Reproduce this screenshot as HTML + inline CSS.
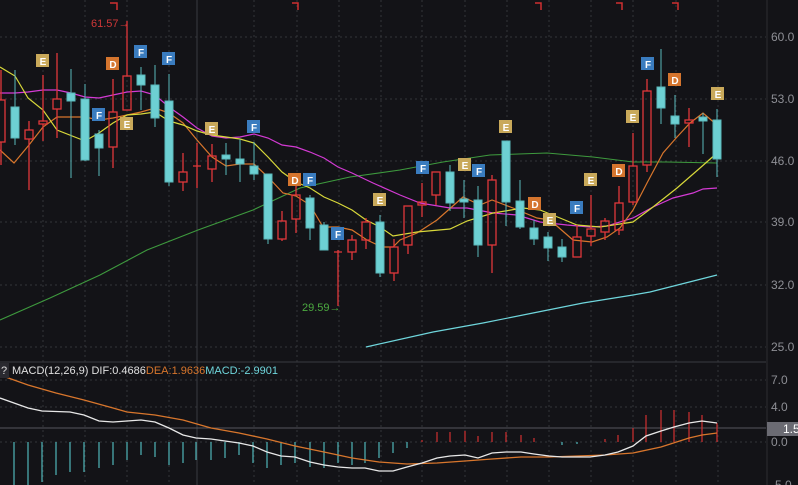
<!DOCTYPE html>
<html><head><meta charset="utf-8"><style>
html,body{margin:0;padding:0;background:#131317;width:798px;height:485px;overflow:hidden}
svg{display:block}
text{font-family:"Liberation Sans",sans-serif}
</style></head><body>
<svg width="798" height="485" viewBox="0 0 798 485" xmlns="http://www.w3.org/2000/svg">
<rect width="798" height="485" fill="#131317"/>
<!-- grid -->
<g stroke="#33343a" stroke-width="1" stroke-dasharray="2,3">
<line x1="0" y1="37" x2="766" y2="37"/><line x1="0" y1="99" x2="766" y2="99"/><line x1="0" y1="161" x2="766" y2="161"/><line x1="0" y1="222" x2="766" y2="222"/><line x1="0" y1="285" x2="766" y2="285"/><line x1="0" y1="347" x2="766" y2="347"/>
<line x1="0" y1="380" x2="766" y2="380"/><line x1="0" y1="407" x2="766" y2="407"/><line x1="0" y1="442" x2="766" y2="442"/>
<line x1="43" y1="0" x2="43" y2="485"/><line x1="85" y1="0" x2="85" y2="485"/><line x1="127" y1="0" x2="127" y2="485"/><line x1="169" y1="0" x2="169" y2="485"/><line x1="254" y1="0" x2="254" y2="485"/><line x1="297" y1="0" x2="297" y2="485"/><line x1="339" y1="0" x2="339" y2="485"/><line x1="381" y1="0" x2="381" y2="485"/><line x1="422" y1="0" x2="422" y2="485"/><line x1="465" y1="0" x2="465" y2="485"/><line x1="507" y1="0" x2="507" y2="485"/><line x1="549" y1="0" x2="549" y2="485"/><line x1="591" y1="0" x2="591" y2="485"/><line x1="633" y1="0" x2="633" y2="485"/><line x1="676" y1="0" x2="676" y2="485"/><line x1="718" y1="0" x2="718" y2="485"/>
</g>
<line x1="197" y1="0" x2="197" y2="485" stroke="#3a3b40"/>
<line x1="767" y1="0" x2="767" y2="485" stroke="#2c2d32"/>
<line x1="0" y1="362" x2="766" y2="362" stroke="#3a3b40"/>
<line x1="0" y1="428" x2="766" y2="428" stroke="#55565c"/>
<!-- axis labels -->
<g fill="#8e8f95" font-size="12">
<text x="771" y="41">60.0</text><text x="771" y="103">53.0</text><text x="771" y="165">46.0</text><text x="771" y="226">39.0</text><text x="771" y="289">32.0</text><text x="771" y="351">25.0</text>
<text x="771" y="384">7.0</text><text x="771" y="411">4.0</text><text x="771" y="446">0.0</text><text x="771" y="489">-5.0</text>
</g>
<rect x="767" y="422" width="31" height="14" fill="#6b6b73"/>
<text x="783" y="433" fill="#fff" font-size="12">1.5</text>
<!-- top markers -->
<g stroke="#d03030" stroke-width="1.5" fill="none">
<path d="M110 3H117V10"/><path d="M292 3H298V10"/><path d="M535 3H541V10"/><path d="M616 3H622V10"/><path d="M672 3H678V10"/>
</g>
<!-- MA lines -->
<polyline fill="none" stroke="#3e9a3e" stroke-width="1.1" points="0,320 50,298 100,275 147,250 198,230 253,210 300,188 350,177 400,170 443,162 490,155 547,153 593,157 633,162 667,162 717,163"/>
<polyline fill="none" stroke="#6fd6dc" stroke-width="1.2" points="366,347 433,332 483,323 533,313 583,303 633,295 650,292 717,275"/>
<polyline fill="none" stroke="#d43ad4" stroke-width="1.2" points="0,93 15,93 28,92 43,90 57,90 71,93 85,97 99,98 113,95 127,92 141,91 155,95 169,107 183,117 197,128 212,136 226,138 240,137 254,134 268,138 282,145 296,147 310,152 324,158 338,167 352,173 373,183 400,195 420,203 450,208 467,208 493,213 517,215 540,222 567,225 590,227 607,226 633,218 653,207 673,198 693,193 703,189 717,188"/>
<polyline fill="none" stroke="#d8762c" stroke-width="1.2" points="0,150 14,163 29,145 43,127 57,117 85,117 99,120 113,118 127,115 141,112 155,108 169,113 183,123 197,140 212,157 226,166 240,164 254,164 268,177 283,193 296,196 310,205 323,227 338,227 352,230 367,240 382,247 393,247 400,240 417,233 437,220 463,197 480,205 492,200 513,208 537,218 550,220 573,240 592,242 607,237 620,228 633,210 647,183 663,153 677,137 690,123 703,113 717,125"/>
<polyline fill="none" stroke="#d8d83a" stroke-width="1.2" points="0,67 15,76 28,98 43,110 57,130 85,141 99,133 113,123 127,115 141,114 155,112 169,121 183,125 197,131 212,135 226,137 240,139 254,143 268,157 282,172 296,182 310,188 324,197 338,203 352,210 366,220 380,227 393,236 417,232 450,229 467,221 493,213 523,208 540,210 560,218 577,225 600,227 633,222 653,207 677,188 700,168 717,153"/>
<!-- candles -->
<g stroke="#e0383a" stroke-width="1.3" fill="none">
<path d="M1 70V100M1 142V165"/><rect x="-3" y="100" width="8" height="42"/>
<path d="M29 121V130M29 139V190"/><rect x="25" y="130" width="8" height="9"/>
<path d="M43 75V121M43 124V141"/><rect x="39" y="121" width="8" height="3"/>
<path d="M57 53V99M57 109V138"/><rect x="53" y="99" width="8" height="10"/>
<path d="M113 79V112M113 147V168"/><rect x="109" y="112" width="8" height="35"/>
<path d="M127 21V76"/><rect x="123" y="76" width="8" height="34"/>
<path d="M183 153V172M183 182V191"/><rect x="179" y="172" width="8" height="10"/>
<path d="M197 143V188M193 166H201"/>
<path d="M212 144V156M212 169V182"/><rect x="208" y="156" width="8" height="13"/>
<path d="M282 211V221M282 239V241"/><rect x="278" y="221" width="8" height="18"/>
<path d="M296 185V195M296 219V233"/><rect x="292" y="195" width="8" height="24"/>
<path d="M338 250V306M334 252H342"/>
<path d="M352 235V240M352 252V260"/><rect x="348" y="240" width="8" height="12"/>
<path d="M366 218V222M366 240V249"/><rect x="362" y="222" width="8" height="18"/>
<path d="M394 239V247M394 273V281"/><rect x="390" y="247" width="8" height="26"/>
<path d="M408 245V254"/><rect x="404" y="206" width="8" height="39"/>
<path d="M422 183V202M422 205V217"/><rect x="418" y="202" width="8" height="3"/>
<path d="M436 195V205"/><rect x="432" y="172" width="8" height="23"/>
<path d="M492 175V180M492 245V273"/><rect x="488" y="180" width="8" height="65"/>
<path d="M577 225V237"/><rect x="573" y="237" width="8" height="20"/>
<path d="M591 195V229M591 236V246"/><rect x="587" y="229" width="8" height="7"/>
<path d="M605 218V221M605 232V240"/><rect x="601" y="221" width="8" height="11"/>
<path d="M619 186V203M619 230V235"/><rect x="615" y="203" width="8" height="27"/>
<path d="M633 133V166M633 202V205"/><rect x="629" y="166" width="8" height="36"/>
<path d="M647 79V91M647 165V172"/><rect x="643" y="91" width="8" height="74"/>
<path d="M689 108V120M689 123V147"/><rect x="685" y="120" width="8" height="3"/>
</g>
<g fill="#6dd0d3" stroke="#5ab8bb" stroke-width="1">
<path d="M15 70V145M71 69V178M85 84V161M99 130V176M141 67V110M155 65V127M169 74V186M226 143V175M240 139V182M254 142V180M268 174V244M310 195V240M324 222V250M380 215V277M450 165V211M464 180V218M478 186V257M506 141V226M520 180V229M534 220V245M548 232V261M562 239V262M661 49V124M675 95V138M703 113V154M717 109V177"/>
<rect x="11" y="107" width="8" height="31"/><rect x="67" y="93" width="8" height="8"/><rect x="81" y="99" width="8" height="61"/><rect x="95" y="134" width="8" height="14"/><rect x="137" y="75" width="8" height="10"/><rect x="151" y="85" width="8" height="33"/><rect x="165" y="101" width="8" height="81"/><rect x="222" y="155" width="8" height="4"/><rect x="236" y="159" width="8" height="5"/><rect x="250" y="166" width="8" height="8"/><rect x="264" y="174" width="8" height="65"/><rect x="306" y="198" width="8" height="30"/><rect x="320" y="225" width="8" height="25"/><rect x="376" y="222" width="8" height="51"/><rect x="446" y="172" width="8" height="31"/><rect x="460" y="199" width="8" height="3"/><rect x="474" y="200" width="8" height="45"/><rect x="502" y="141" width="8" height="61"/><rect x="516" y="201" width="8" height="26"/><rect x="530" y="228" width="8" height="11"/><rect x="544" y="237" width="8" height="11"/><rect x="558" y="247" width="8" height="10"/><rect x="657" y="87" width="8" height="21"/><rect x="671" y="116" width="8" height="8"/><rect x="699" y="117" width="8" height="4"/><rect x="713" y="120" width="8" height="39"/>
</g>
<!-- price labels -->
<text x="91" y="27" fill="#d03838" font-size="11">61.57→</text>
<text x="302" y="311" fill="#4caa40" font-size="11">29.59→</text>
<!-- event markers -->
<g font-size="10" font-weight="bold" fill="#fff" text-anchor="middle">
<g fill="#c9a95a"><rect x="36" y="54" width="13" height="13"/><rect x="120" y="117" width="13" height="13"/><rect x="205" y="122" width="13" height="13"/><rect x="373" y="193" width="13" height="13"/><rect x="458" y="158" width="13" height="13"/><rect x="499" y="120" width="13" height="13"/><rect x="543" y="213" width="13" height="13"/><rect x="584" y="173" width="13" height="13"/><rect x="626" y="110" width="13" height="13"/><rect x="711" y="87" width="13" height="13"/></g>
<g fill="#d5752e"><rect x="106" y="57" width="13" height="13"/><rect x="288" y="173" width="13" height="13"/><rect x="528" y="197" width="13" height="13"/><rect x="612" y="164" width="13" height="13"/><rect x="668" y="73" width="13" height="13"/></g>
<g fill="#3a7cbf"><rect x="134" y="45" width="13" height="13"/><rect x="162" y="52" width="13" height="13"/><rect x="92" y="108" width="13" height="13"/><rect x="247" y="120" width="13" height="13"/><rect x="303" y="173" width="13" height="13"/><rect x="331" y="227" width="13" height="13"/><rect x="416" y="161" width="13" height="13"/><rect x="472" y="164" width="13" height="13"/><rect x="570" y="201" width="13" height="13"/><rect x="641" y="57" width="13" height="13"/></g>
<text x="43" y="65">E</text><text x="127" y="128">E</text><text x="212" y="133">E</text><text x="380" y="204">E</text><text x="465" y="169">E</text><text x="506" y="131">E</text><text x="550" y="224">E</text><text x="591" y="184">E</text><text x="633" y="121">E</text><text x="718" y="98">E</text>
<text x="113" y="68">D</text><text x="295" y="184">D</text><text x="535" y="208">D</text><text x="619" y="175">D</text><text x="675" y="84">D</text>
<text x="141" y="56">F</text><text x="169" y="63">F</text><text x="99" y="119">F</text><text x="254" y="131">F</text><text x="310" y="184">F</text><text x="338" y="238">F</text><text x="423" y="172">F</text><text x="479" y="175">F</text><text x="577" y="212">F</text><text x="648" y="68">F</text>
</g>
<!-- MACD histogram -->
<g stroke="#4fb6b8" stroke-width="1.2">
<path d="M14 442V485M28 442V485M42 442V482M56 442V475M70 442V472M84 442V472M99 442V468M113 442V465M127 442V460M141 442V455M155 442V457M169 442V465M183 442V463M196 442V460M211 442V460M225 442V458M239 442V455M253 442V463M267 442V468M281 442V465M295 442V463M310 442V467M324 442V468M338 442V463M352 442V465M365 442V463M379 442V458M393 442V453M407 442V448M562 442V445M577 442V444"/>
</g>
<g stroke="#d03030" stroke-width="1.2">
<path d="M422 442V440M437 442V432M450 442V432M465 442V431M478 442V436M492 442V432M506 442V432M521 442V435M534 442V438M605 442V439M618 442V435M633 442V428M646 442V415M661 442V410M674 442V410M689 442V412M702 442V415M717 442V423"/>
</g>
<polyline fill="none" stroke="#d8762c" stroke-width="1.3" points="0,375 14,380 28,385 56,393 84,400 113,408 127,412 155,415 183,420 211,428 239,433 267,439 295,446 324,452 352,458 379,462 407,464 437,463 465,461 492,459 521,457 549,457 577,456 605,455 633,453 661,447 689,438 702,435 717,433"/>
<polyline fill="none" stroke="#e8e8e8" stroke-width="1.3" points="0,398 14,403 28,408 42,411 70,412 84,415 99,421 113,422 127,421 141,420 155,422 169,428 183,435 196,438 211,439 225,441 239,443 253,446 267,452 281,456 295,457 310,462 324,465 338,467 352,468 365,468 379,471 393,471 407,467 422,463 437,458 450,456 465,455 478,458 492,453 506,452 521,452 534,454 549,456 562,457 577,457 590,457 605,455 618,452 633,446 646,436 661,431 674,427 689,423 702,421 717,423"/>
<!-- MACD header -->
<rect x="0" y="363" width="9" height="15" fill="#2a2a30"/>
<text x="1" y="374" fill="#ddd" font-size="11">?</text>
<text x="12" y="374" font-size="11"><tspan fill="#e0e0e0">MACD(12,26,9)  DIF:0.4686</tspan><tspan fill="#d8762c">DEA:1.9636</tspan><tspan fill="#6fd6dc">MACD:-2.9901</tspan></text>
</svg>
</body></html>
